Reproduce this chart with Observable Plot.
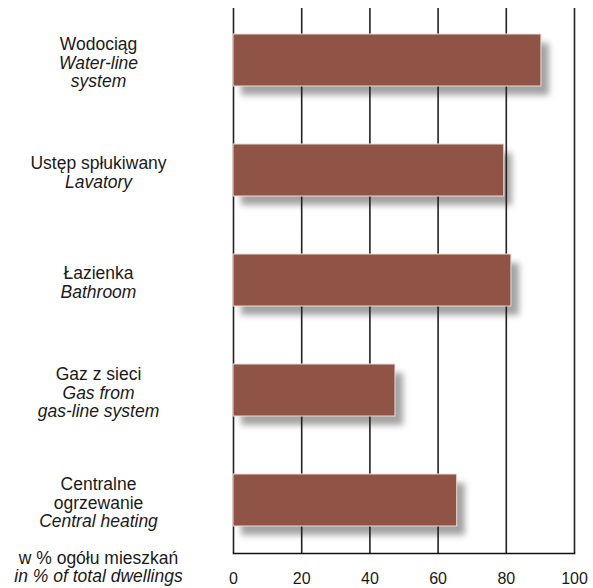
<!DOCTYPE html>
<html>
<head>
<meta charset="utf-8">
<script src="https://cdn.jsdelivr.net/npm/d3@7"></script>
<script src="https://cdn.jsdelivr.net/npm/@observablehq/plot@0.6"></script>
<style>
  html, body { margin: 0; padding: 0; background: #fff; }
  #chart { width: 593px; height: 588px; }
</style>
</head>
<body>
<div id="chart"></div>
<script>
const keys = ["water", "lavatory", "bathroom", "gas", "heating"];
const labelsPl = [["Wodociąg"], ["Ustęp spłukiwany"], ["Łazienka"], ["Gaz z sieci"], ["Centralne", "ogrzewanie"]];
const labelsEn = [["Water-line", "system"], ["Lavatory"], ["Bathroom"], ["Gas from", "gas-line system"], ["Central heating"]];
const values = [90.3, 79.4, 81.5, 47.5, 65.6];
const xTicks = [0, 20, 40, 60, 80, 100];
const unitPl = "w % ogółu mieszkań";
const unitEn = "in % of total dwellings";

const NB = "\u00a0";
const data = keys.map((k, i) => {
  const pl = labelsPl[i], en = labelsEn[i];
  return {
    key: k,
    value: values[i],
    pl: [...pl, ...en.map(() => NB)].join("\n"),
    en: [...pl.map(() => NB), ...en].join("\n")
  };
});

const font = "Arial, 'Liberation Sans', Helvetica, sans-serif";

const chart = Plot.plot({
  width: 593,
  height: 588,
  marginTop: 8,
  marginBottom: 35,
  marginLeft: 233,
  marginRight: 19,
  style: { fontFamily: font, fontSize: "16px", color: "#1a1a1a", background: "#fff" },
  x: { domain: [0, 100], ticks: xTicks, label: null },
  y: { domain: keys, range: [33.5, 527], paddingInner: 0.53, paddingOuter: 0, axis: null },
  marks: [
    Plot.barX(data, { y: "key", x: "value", fill: "#7a7a7a", fillOpacity: 0.7, dx: 8, dy: 9, ariaDescription: "shadow" }),
    Plot.ruleX(xTicks, { stroke: "#222", strokeWidth: 1.6 }),
    Plot.frame({ anchor: "bottom", stroke: "#111", strokeWidth: 1.6 }),
    Plot.axisX({ ticks: xTicks, tickSize: 0, tickPadding: 19, fontSize: 16, label: null }),
    Plot.barX(data, { y: "key", x: "value", fill: "#8f5446", stroke: "#eadbd5", strokeWidth: 1 }),
    Plot.text(data, { y: "key", text: "pl", frameAnchor: "left", dx: -135, dy: 2, textAnchor: "middle", lineAnchor: "middle", lineHeight: 1.08, fontSize: 17.5, fill: "#1a1a1a" }),
    Plot.text(data, { y: "key", text: "en", frameAnchor: "left", dx: -135, dy: 2, textAnchor: "middle", lineAnchor: "middle", lineHeight: 1.08, fontSize: 17.5, fontStyle: "italic", fill: "#1a1a1a" }),
    Plot.text([unitPl + "\n" + NB], { text: d => d, frameAnchor: "bottom-left", dx: -135, dy: 14, textAnchor: "middle", lineAnchor: "middle", lineHeight: 1.04, fontSize: 17.5, fill: "#1a1a1a" }),
    Plot.text([NB + "\n" + unitEn], { text: d => d, frameAnchor: "bottom-left", dx: -135, dy: 14, textAnchor: "middle", lineAnchor: "middle", lineHeight: 1.04, fontSize: 17.5, fontStyle: "italic", fill: "#1a1a1a" })
  ]
});

const sh = chart.querySelector('g[aria-description="shadow"]');
if (sh) sh.style.filter = "blur(3px)";
document.getElementById("chart").appendChild(chart);
</script>
</body>
</html>
